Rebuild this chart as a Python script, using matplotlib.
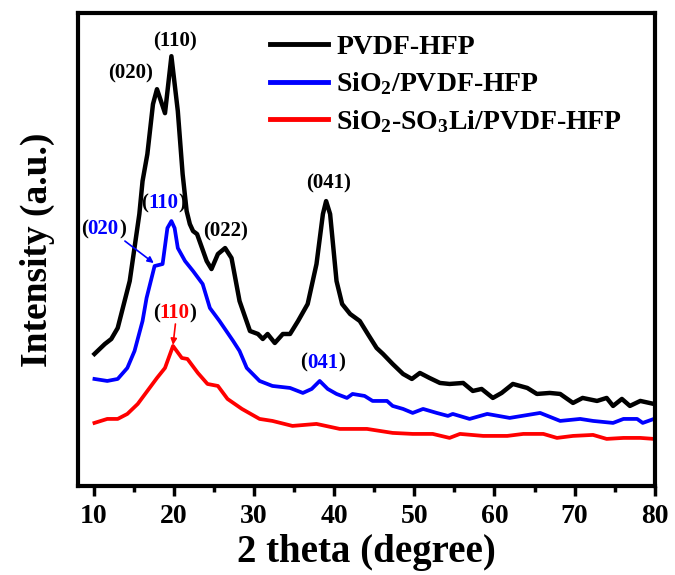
import matplotlib
matplotlib.use("Agg")
import matplotlib.pyplot as plt
from matplotlib.offsetbox import TextArea, HPacker, AnnotationBbox
from matplotlib.ticker import MultipleLocator

plt.rcParams["font.family"] = ["Liberation Serif", "DejaVu Serif"]
plt.rcParams["font.weight"] = "bold"
plt.rcParams["mathtext.default"] = "regular"

# XRD patterns (2 theta in degree, intensity in a.u.)
tt_pvdf = [10.1, 11.4, 12.2, 13.0, 14.5, 15.7, 16.1, 16.7, 17.4, 17.9, 18.9, 19.7,
           20.5, 21.1, 21.6, 22.0, 22.4, 22.9, 24.1, 24.7, 25.5, 26.4, 27.2, 28.2,
           29.5, 30.5, 31.1, 31.7, 32.6, 33.6, 34.5, 35.5, 36.7, 37.8, 38.6, 39.0,
           39.5, 40.3, 41.0, 42.0, 43.2, 44.2, 45.3, 46.1, 47.3, 48.6, 49.7, 50.7,
           51.9, 53.2, 54.4, 56.1, 57.3, 58.4, 59.8, 60.9, 62.3, 64.1, 65.3, 66.9,
           68.2, 69.8, 71.0, 72.8, 74.0, 74.8, 75.9, 76.9, 78.2, 79.9]
i_pvdf = [132, 142, 147, 158, 205, 272, 305, 332, 382, 397, 373, 430,
          375, 312, 275, 262, 255, 252, 225, 217, 232, 238, 228, 185,
          155, 152, 147, 152, 143, 152, 152, 165, 182, 222, 272, 285,
          272, 205, 182, 172, 165, 152, 138, 132, 122, 112, 107, 113,
          108, 103, 102, 103, 95, 97, 88, 93, 102, 98, 92, 93,
          92, 83, 88, 85, 88, 80, 87, 80, 85, 82]

tt_sio2 = [10.1, 11.7, 13.0, 14.2, 15.1, 16.1, 16.6, 17.6, 18.6, 19.2, 19.7, 20.1,
           20.5, 21.4, 22.4, 23.6, 24.5, 25.7, 27.4, 28.2, 29.1, 30.7, 32.3, 34.5,
           36.1, 37.2, 38.2, 39.2, 40.3, 41.6, 42.3, 43.8, 44.8, 46.6, 47.3, 48.6,
           49.8, 51.1, 52.8, 54.2, 54.8, 56.9, 59.1, 61.9, 65.7, 68.2, 70.7, 72.3,
           74.8, 76.1, 77.8, 78.5, 79.9]
i_sio2 = [107, 105, 107, 118, 135, 165, 188, 220, 222, 258, 265, 258,
          238, 225, 215, 202, 178, 165, 145, 135, 118, 105, 100, 98,
          93, 97, 105, 97, 92, 88, 92, 90, 85, 85, 80, 77,
          73, 77, 73, 70, 72, 67, 72, 68, 73, 65, 67, 65,
          63, 67, 67, 63, 67]

tt_so3li = [10.1, 11.7, 13.0, 14.2, 15.5, 16.7, 17.9, 18.9, 19.9, 21.0, 21.7, 23.0,
            24.2, 25.5, 26.7, 28.5, 30.7, 32.3, 34.8, 37.8, 40.7, 44.1, 47.3, 49.8,
            52.3, 54.4, 55.7, 58.6, 61.6, 63.6, 66.1, 67.8, 69.8, 72.3, 74.0, 76.1,
            78.2, 79.9]
i_so3li = [63, 67, 67, 72, 82, 95, 108, 118, 140, 128, 127, 113,
           102, 100, 87, 77, 67, 65, 60, 62, 57, 57, 53, 52,
           52, 48, 52, 50, 50, 52, 52, 48, 50, 51, 47, 48,
           48, 47]

labels = ["PVDF-HFP", "SiO$_2$/PVDF-HFP", "SiO$_2$-SO$_3$Li/PVDF-HFP"]
colors = ["black", "#0000ff", "#ff0000"]

fig = plt.figure(figsize=(6.75, 5.75), dpi=100)
ax = fig.add_axes([0.115, 0.155, 0.855, 0.822])

ax.plot(tt_pvdf, i_pvdf, color=colors[0], lw=3.2, label=labels[0])
ax.plot(tt_sio2, i_sio2, color=colors[1], lw=2.7, label=labels[1])
ax.plot(tt_so3li, i_so3li, color=colors[2], lw=2.7, label=labels[2])

ax.set_xlim(8, 80)
ax.set_ylim(0, 473)
ax.xaxis.set_major_locator(MultipleLocator(10))
ax.xaxis.set_minor_locator(MultipleLocator(5))
ax.set_yticks([])
ax.tick_params(axis="x", which="major", direction="out", length=7, width=2.5,
               labelsize=20, pad=6)
ax.tick_params(axis="x", which="minor", direction="out", length=4, width=2.5)
for s in ax.spines.values():
    s.set_linewidth(3)

ax.set_xlabel("2 theta (degree)", fontsize=28, fontweight="bold", labelpad=4)
ax.set_ylabel("Intensity (a.u.)", fontsize=27, fontweight="bold", labelpad=16)

leg = ax.legend(loc="upper left", bbox_to_anchor=(0.333, 0.955), frameon=False,
                fontsize=20, handlelength=2.1, handletextpad=0.3,
                labelspacing=0.38, borderpad=0, borderaxespad=0)
for line in leg.get_lines():
    line.set_linewidth(3.5)

# peak indices
black_peaks = [("(020)", 14.6, 413), ("(110)", 20.2, 445),
               ("(022)", 26.5, 255), ("(041)", 39.3, 303)]
for txt, x, y in black_peaks:
    ax.text(x, y, txt, fontsize=15, ha="center", va="center")


def hkl_label(x, y, hkl, color):
    parts = [TextArea("(", textprops=dict(color="black", fontsize=15, fontweight="bold")),
             TextArea(hkl, textprops=dict(color=color, fontsize=15, fontweight="bold")),
             TextArea(")", textprops=dict(color="black", fontsize=15, fontweight="bold"))]
    box = HPacker(children=parts, align="baseline", pad=0, sep=0)
    ab = AnnotationBbox(box, (x, y), xycoords="data", frameon=False,
                        box_alignment=(0.5, 0.5), pad=0)
    ax.add_artist(ab)


hkl_label(11.2, 257, "020", colors[1])
hkl_label(18.7, 283, "110", colors[1])
hkl_label(38.6, 123, "041", colors[1])
hkl_label(20.1, 173, "110", colors[2])

ax.annotate("", xy=(17.5, 223), xytext=(13.9, 245),
            arrowprops=dict(arrowstyle="-|>", color=colors[1], lw=1.2,
                            mutation_scale=9, shrinkA=0, shrinkB=0))
ax.annotate("", xy=(19.9, 141), xytext=(20.2, 162),
            arrowprops=dict(arrowstyle="-|>", color=colors[2], lw=1.2,
                            mutation_scale=9, shrinkA=0, shrinkB=0))

fig.savefig("out.png", dpi=100)
